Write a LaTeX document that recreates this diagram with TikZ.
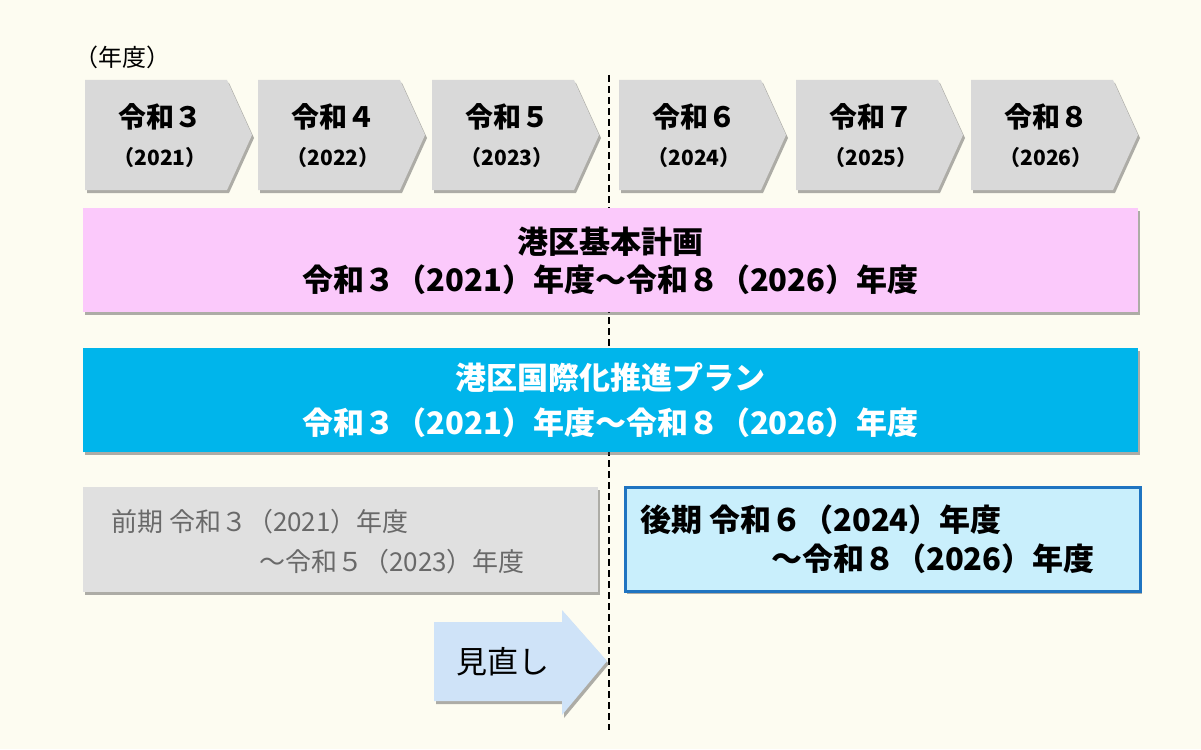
\documentclass[tikz,border=0pt]{standalone}
\usepackage{fontspec}
\newfontfamily\jp{Noto Sans CJK JP}
\usetikzlibrary{shadows}
\definecolor{bg}{RGB}{253,252,241}
\definecolor{chevgray}{RGB}{217,217,217}
\definecolor{pinkfill}{RGB}{251,201,251}
\definecolor{cyanfill}{RGB}{0,181,235}
\definecolor{grayfill}{RGB}{224,224,224}
\definecolor{graytext}{RGB}{105,105,105}
\definecolor{lbfill}{RGB}{201,239,252}
\definecolor{lbborder}{RGB}{31,116,193}
\definecolor{arrowfill}{RGB}{207,227,248}
\begin{document}
\begin{tikzpicture}[x=1pt,y=-1pt,
  shad/.style={drop shadow={shadow xshift=2pt,shadow yshift=-3pt,opacity=0.45,fill=black!70}},
  chev/.style={fill=chevgray,shad},
  yearlbl/.style={font=\jp\bfseries\fontsize{28}{32}\selectfont,inner sep=0pt},
  yearnum/.style={font=\jp\bfseries\fontsize{21}{24}\selectfont,inner sep=0pt},
  bigtxt/.style={font=\jp\bfseries\fontsize{31}{36}\selectfont,inner sep=0pt,anchor=center},
  midtxt/.style={font=\jp\fontsize{26}{30}\selectfont,inner sep=0pt},
  boldtxt/.style={font=\jp\bfseries\fontsize{31}{36}\selectfont,inner sep=0pt},
  band/.style={shad,minimum width=1055pt,minimum height=104pt,inner sep=0pt}]
\fill[bg] (0,0) rectangle (1201,749);
\useasboundingbox (0,0) rectangle (1201,749);
% dashed divider
\coordinate (dtop) at (609,75);
\coordinate (dbot) at (609,730);
\draw[line width=1.6pt,dash pattern=on 7pt off 4pt] (dtop) -- (dbot);
% unit label
\node[font=\jp\fontsize{24}{28}\selectfont,inner sep=0pt,anchor=west] (unit) at (74,57) {（年度）};
% chevrons
\foreach \x/\n/\yr [count=\i] in {85/３/2021,258/４/2022,432/５/2023,619/６/2024,796/７/2025,971/８/2026}{
  \path[chev] (\x,80) -- (\x+142,80) -- (\x+167,135) -- (\x+142,190) -- (\x,190) -- cycle;
  \node[yearlbl] (yl\i) at (\x+75,117) {令和\n};
  \node[yearnum] (yn\i) at (\x+75,158) {（\yr）};
}
% plan bands
\node[band,fill=pinkfill] (kihon) at (610.5,260) {};
\node[bigtxt] (kihon1) at (610.5,242) {港区基本計画};
\node[bigtxt] (kihon2) at (610.5,280) {令和３（2021）年度～令和８（2026）年度};
\node[band,fill=cyanfill] (kokusai) at (610.5,400) {};
\node[bigtxt,text=white] (kokusai1) at (610.5,378) {港区国際化推進プラン};
\node[bigtxt,text=white] (kokusai2) at (610.5,423) {令和３（2021）年度～令和８（2026）年度};
% first half
\path[fill=grayfill,shad] (83,487) rectangle (598,592);
\node[midtxt,text=graytext,anchor=west] (zen1) at (111,522) {前期 令和３（2021）年度};
\node[midtxt,text=graytext,anchor=west] (zen2) at (259,562) {～令和５（2023）年度};
% second half
\path[fill=lbfill,draw=lbborder,line width=3pt,shad] (625,487) rectangle (1140,591);
\node[boldtxt,anchor=west] (kou1) at (640,520) {後期 令和６（2024）年度};
\node[boldtxt,anchor=west] (kou2) at (771,559) {～令和８（2026）年度};
% review arrow
\path[fill=arrowfill,shad] (434,622) -- (562,622) -- (562,610) -- (607,661) -- (562,715) -- (562,701) -- (434,701) -- cycle;
\node[font=\jp\fontsize{31}{34}\selectfont,inner sep=0pt] (minaoshi) at (503,662) {見直し};
\end{tikzpicture}
\end{document}
